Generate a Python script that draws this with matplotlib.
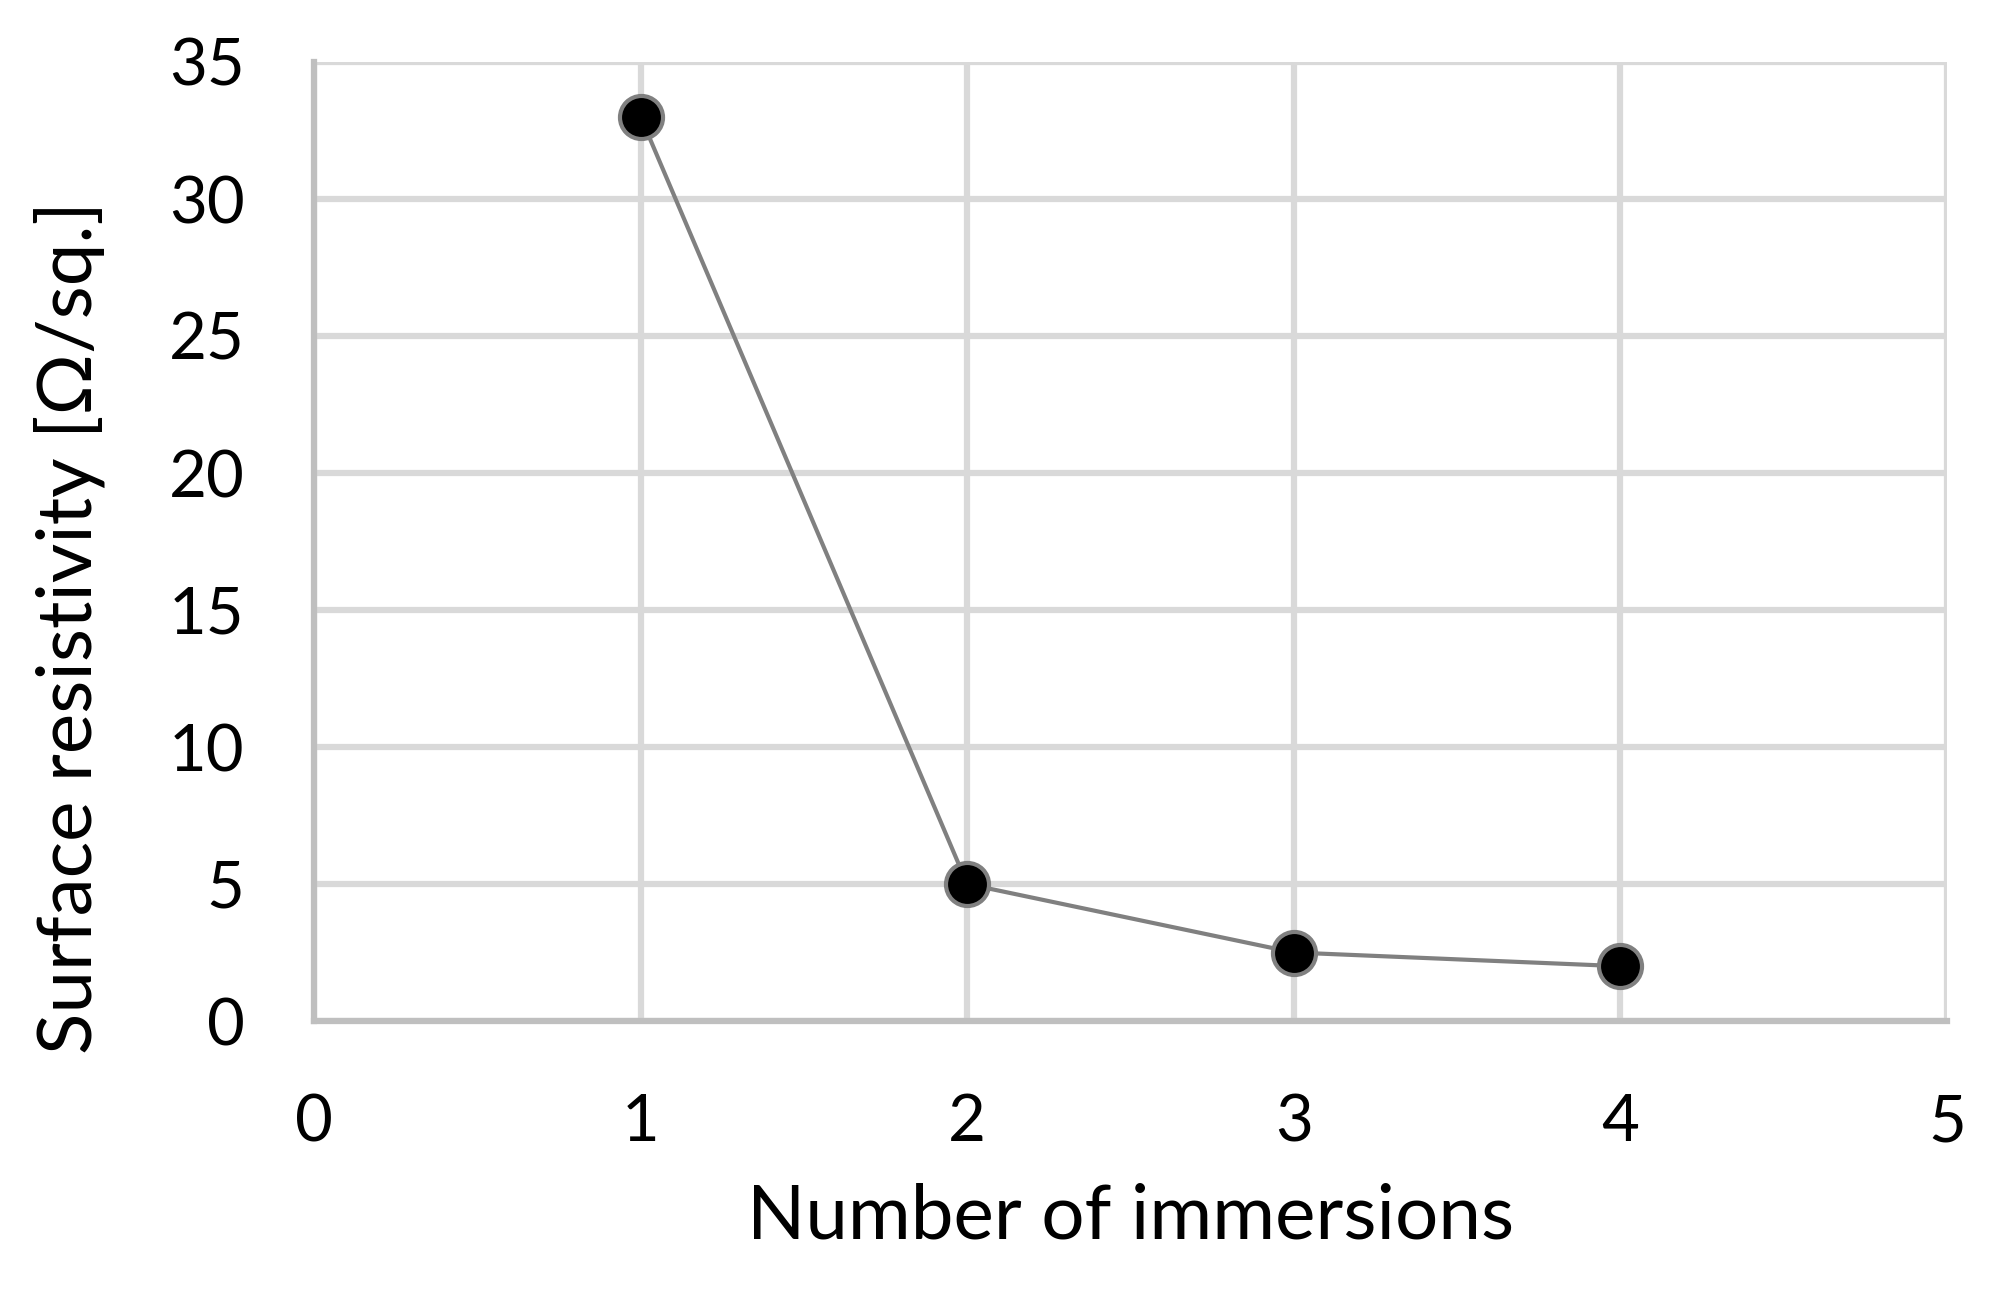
import matplotlib
matplotlib.use("Agg")
import matplotlib.pyplot as plt

# Data
immersions = [1, 2, 3, 4]
resistivity = [33.0, 5.0, 2.5, 2.0]
x_ticks = [0, 1, 2, 3, 4, 5]
y_ticks = [0, 5, 10, 15, 20, 25, 30, 35]

plt.rcParams['font.family'] = ['Lato', 'DejaVu Sans']

fig = plt.figure(figsize=(19.99, 13.01), dpi=100)
ax = fig.add_axes([314 / 1999, 1 - 1021 / 1301, 1633 / 1999, 959 / 1301])

# Line with black markers and grey edges
ax.plot(immersions, resistivity, color='#808080', linewidth=3.0,
        marker='o', markersize=31, markerfacecolor='black',
        markeredgecolor='#808080', markeredgewidth=3.0, zorder=3)

ax.set_xlim(0, 5)
ax.set_ylim(0, 35)
ax.set_xticks(x_ticks)
ax.set_yticks(y_ticks)

# Light grey grid, darker left/bottom axes
ax.grid(True, color='#D9D9D9', linewidth=4.5, zorder=0)
ax.set_axisbelow(True)
for side in ['top', 'right']:
    ax.spines[side].set_visible(False)
for side in ['left', 'bottom']:
    ax.spines[side].set_color('#BFBFBF')
    ax.spines[side].set_linewidth(4.5)

ax.tick_params(axis='both', length=0, labelsize=47)
ax.tick_params(axis='y', pad=50)
ax.tick_params(axis='x', pad=52)

ax.set_xlabel('Number of immersions', fontsize=55)
ax.set_ylabel('Surface resistivity [Ω/sq.]', fontsize=55)
ax.xaxis.set_label_coords(0.5, -0.168)
ax.yaxis.set_label_coords(-0.128, 0.41)

fig.savefig('out.png', dpi=100)
